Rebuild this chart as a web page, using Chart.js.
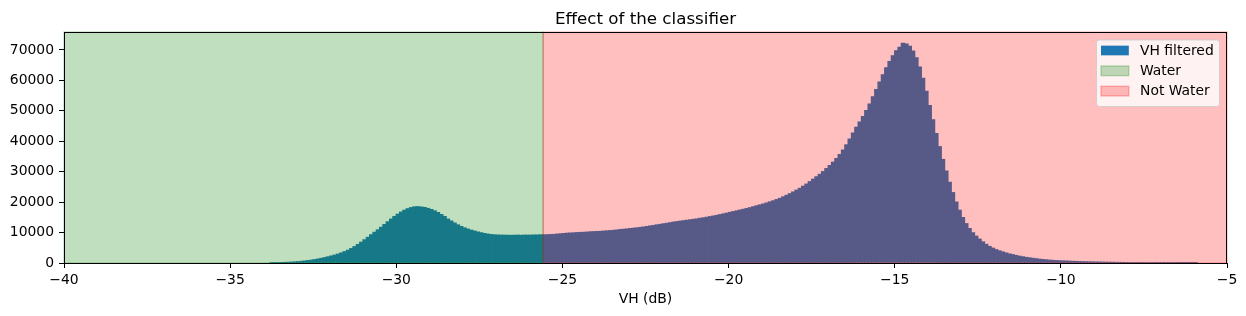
<!DOCTYPE html>
<html>
<head>
<meta charset="utf-8">
<title>Effect of the classifier</title>
<script src="https://cdn.jsdelivr.net/npm/chart.js@4/dist/chart.umd.min.js"></script>
<style>
  html, body { margin: 0; padding: 0; background: #fff; }
  canvas { display: block; }
</style>
</head>
<body>
<canvas id="chart" width="1246" height="316"></canvas>
<script>
// histogram of VH backscatter, 0.1 dB bins starting at -33.8 dB
const binStart = -33.8
const binWidth = 0.1
const counts = [
  150, 170, 190, 220, 250, 290, 340, 410,
  500, 600, 710, 840, 990, 1160, 1360, 1580, 1820, 2080,
  2350, 2650, 2980, 3350, 3780, 4250, 4800, 5450, 6150, 6900,
  7700, 8500, 9350, 10150, 10950, 11800, 12700, 13600, 14500, 15350,
  16100, 16800, 17400, 17900, 18250, 18500, 18550, 18450, 18300, 18000,
  17650, 17200, 16650, 16000, 15350, 14500, 13850, 13200, 12600, 12050,
  11600, 11200, 10850, 10550, 10250, 10000, 9750, 9550, 9400, 9300,
  9250, 9200, 9200, 9150, 9150, 9150, 9200, 9150, 9200, 9200,
  9200, 9250, 9250, 9300, 9300, 9350, 9400, 9450, 9550, 9650,
  9750, 9850, 9900, 9950, 10050, 10100, 10150, 10200, 10300, 10350,
  10400, 10450, 10550, 10600, 10700, 10800, 10900, 11050, 11150, 11250,
  11400, 11500, 11600, 11750, 11900, 12050, 12250, 12400, 12600, 12750,
  12950, 13100, 13300, 13500, 13650, 13800, 13950, 14100, 14250, 14400,
  14550, 14750, 14900, 15100, 15300, 15500, 15700, 15950, 16200, 16450,
  16700, 16950, 17200, 17450, 17700, 17950, 18250, 18550, 18850, 19150,
  19450, 19800, 20150, 20500, 20900, 21300, 21800, 22300, 22850, 23400,
  24000, 24600, 25300, 26000, 26800, 27600, 28400, 29200, 30100, 31100,
  32100, 33200, 34400, 35700, 37200, 38900, 40800, 42800, 44700, 46400,
  48200, 50200, 52300, 54700, 57100, 59500, 61900, 64200, 66300, 68200,
  69800, 71000, 72300, 72000, 71300, 69700, 67500, 64500, 60800, 56500,
  51800, 47100, 42600, 38300, 34100, 30300, 26600, 23200, 20100, 17400,
  15000, 13000, 11400, 10000, 8900, 7900, 7000, 6200, 5500, 4950,
  4450, 4050, 3700, 3350, 3050, 2800, 2550, 2300, 2100, 1900,
  1750, 1600, 1450, 1320, 1200, 1100, 1000, 920, 850, 790,
  740, 690, 640, 600, 560, 520, 480, 450, 420, 390,
  370, 350, 330, 310, 295, 280, 265, 250, 240, 230,
  220, 210, 200, 190, 180, 170, 165, 160, 150, 145,
  140, 130, 125, 120, 115, 110, 105, 100, 90, 80, 70
]

const threshold = -25.58
const waterRange = [-40, threshold]
const notWaterRange = [threshold, -5]

const xTicks = [-40, -35, -30, -25, -20, -15, -10, -5]
const yTicks = [0, 10000, 20000, 30000, 40000, 50000, 60000, 70000]
const legendLabels = ["VH filtered", "Water", "Not Water"]

const FONT = "'DejaVu Sans', sans-serif"
const histColor = '#1f77b4'
const waterColor = 'rgba(0, 128, 0, 0.25)'
const notWaterColor = 'rgba(255, 0, 0, 0.25)'

// one bar per bin, placed at the bin centre
let points = counts.map((c, i) => ({ x: binStart + (i + 0.5) * binWidth, y: c }))

const fmt = v => String(v).replace('-', '\u2212')

const overlay = {
  id: 'overlay',
  afterDraw(chart) {
    const ctx = chart.ctx
    const area = chart.chartArea
    const xs = chart.scales.x

    // axvspan-like shaded regions on top of the histogram
    ctx.save()
    ctx.lineWidth = 1.4
    ;[[waterRange, waterColor], [notWaterRange, notWaterColor]].forEach(([r, col]) => {
      let x0 = xs.getPixelForValue(r[0])
      let x1 = xs.getPixelForValue(r[1])
      ctx.fillStyle = col
      ctx.strokeStyle = col
      ctx.fillRect(x0, area.top, x1 - x0, area.bottom - area.top)
      ctx.strokeRect(x0, area.top, x1 - x0, area.bottom - area.top)
    })
    ctx.restore()

    // spines
    ctx.save()
    ctx.strokeStyle = '#000'
    ctx.lineWidth = 1
    ctx.strokeRect(Math.round(area.left) + 0.5, Math.round(area.top) + 0.5,
      Math.round(area.right - area.left) - 1, Math.round(area.bottom - area.top))
    ctx.restore()

    // title and x label
    ctx.save()
    ctx.fillStyle = '#000'
    ctx.textAlign = 'center'
    ctx.textBaseline = 'alphabetic'
    ctx.font = '16.7px ' + FONT
    let cx = (area.left + area.right) / 2
    ctx.fillText('Effect of the classifier', cx, 24)
    ctx.font = '13.9px ' + FONT
    ctx.textBaseline = 'middle'
    ctx.fillText('VH (dB)', cx, 299)
    ctx.restore()

    // legend, upper right
    let bx = 1096, by = 39.5, bw = 123, bh = 66.5
    ctx.save()
    ctx.beginPath()
    ctx.roundRect(bx + 0.5, by + 0.5, bw, bh, 3)
    ctx.fillStyle = 'rgba(255, 255, 255, 0.8)'
    ctx.fill()
    ctx.strokeStyle = 'rgba(204, 204, 204, 0.8)'
    ctx.lineWidth = 1
    ctx.stroke()

    const swatches = [histColor, waterColor, notWaterColor]
    legendLabels.forEach((label, i) => {
      let rowY = 50.5 + i * 20.3
      ctx.fillStyle = swatches[i]
      ctx.fillRect(1101, rowY - 4.85, 27.8, 9.7)
      if (i > 0) {
        ctx.strokeStyle = swatches[i]
        ctx.lineWidth = 1.4
        ctx.strokeRect(1101, rowY - 4.85, 27.8, 9.7)
      }
      ctx.fillStyle = '#000'
      ctx.font = '13.9px ' + FONT
      ctx.textAlign = 'left'
      ctx.textBaseline = 'middle'
      ctx.fillText(label, 1140, rowY + 0.5)
    })
    ctx.restore()
  }
}

new Chart(document.getElementById('chart'), {
  type: 'bar',
  data: {
    datasets: [{
      label: legendLabels[0],
      data: points,
      backgroundColor: histColor,
      borderWidth: 0,
      barThickness: 4,
      grouped: false
    }]
  },
  options: {
    responsive: false,
    animation: false,
    devicePixelRatio: 1,
    layout: {
      padding: { top: 32, right: 19, left: 0, bottom: 0 }
    },
    plugins: {
      legend: { display: false },
      title: { display: false },
      tooltip: { enabled: false }
    },
    scales: {
      x: {
        type: 'linear',
        min: -40,
        max: -5,
        offset: false,
        afterBuildTicks: s => { s.ticks = xTicks.map(v => ({ value: v })) },
        afterFit: s => { s.height = 53 },
        border: { display: false },
        grid: {
          offset: false,
          drawOnChartArea: false,
          drawTicks: true,
          tickLength: 5,
          tickColor: '#000',
          tickWidth: 1
        },
        ticks: {
          color: '#000',
          padding: 4,
          maxRotation: 0,
          autoSkip: false,
          font: { family: FONT, size: 13.9 },
          callback: v => fmt(v)
        }
      },
      y: {
        min: 0,
        max: 75915,
        afterBuildTicks: s => { s.ticks = yTicks.map(v => ({ value: v })) },
        afterFit: s => { s.width = 64 },
        border: { display: false },
        grid: {
          drawOnChartArea: false,
          drawTicks: true,
          tickLength: 5,
          tickColor: '#000',
          tickWidth: 1
        },
        ticks: {
          color: '#000',
          padding: 5,
          autoSkip: false,
          font: { family: FONT, size: 13.9 },
          callback: v => fmt(v)
        }
      }
    }
  },
  plugins: [overlay]
})
</script>
</body>
</html>
